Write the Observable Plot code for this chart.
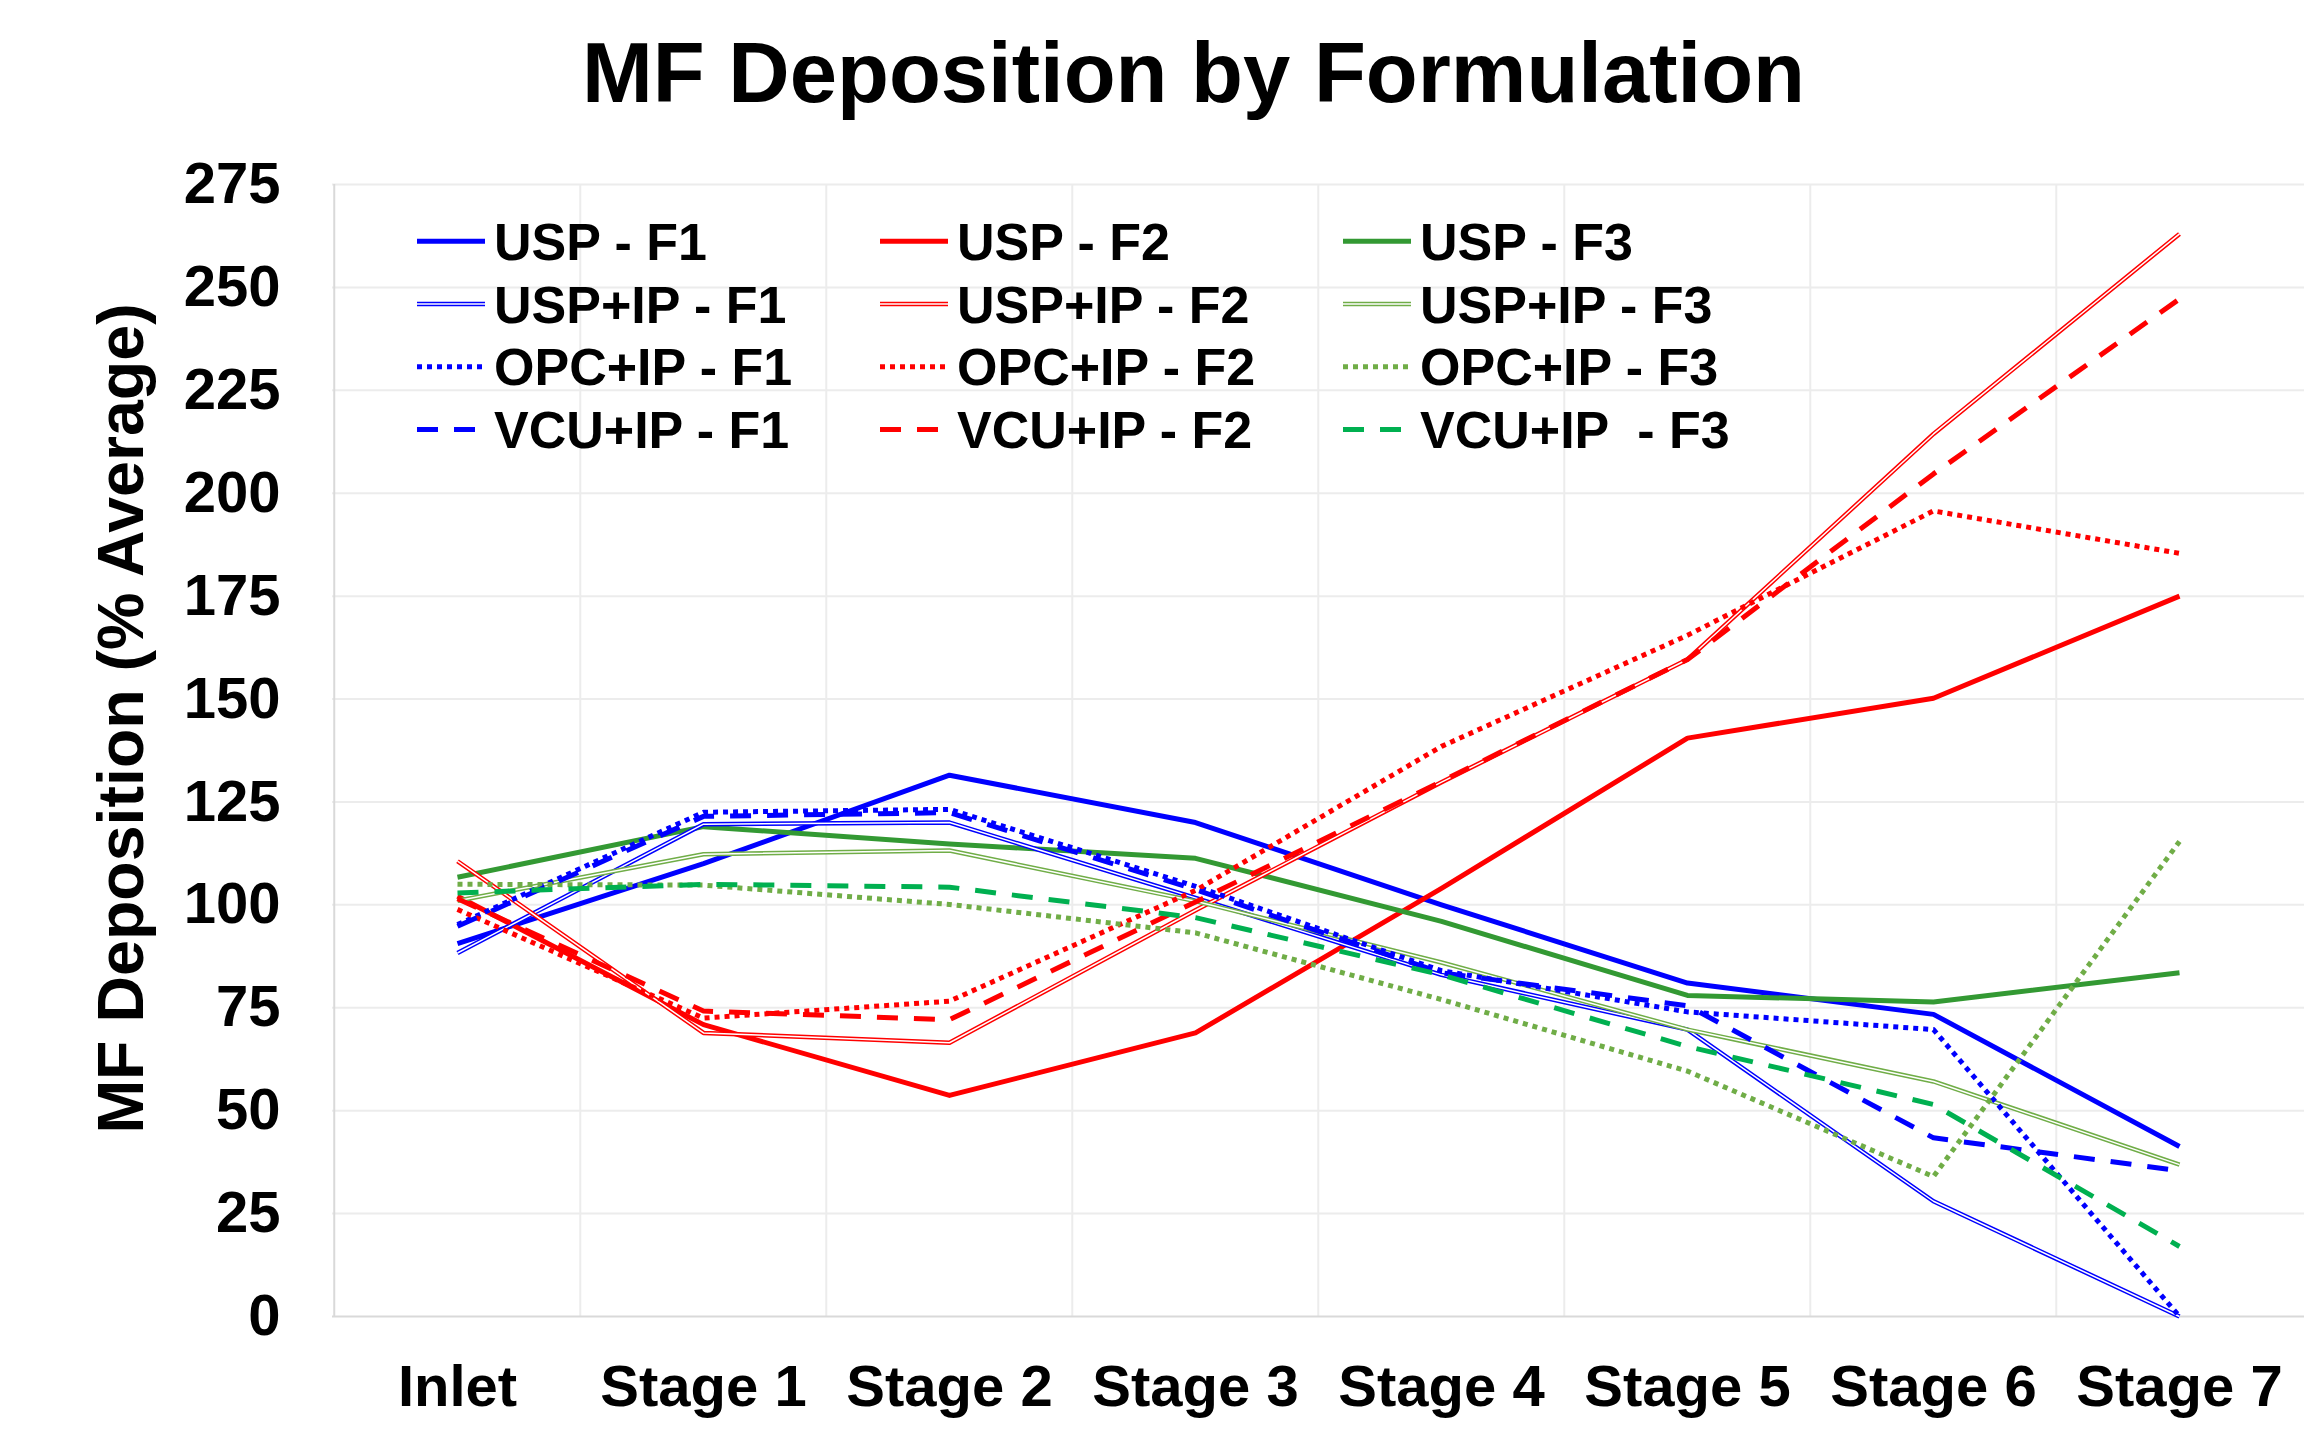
<!DOCTYPE html>
<html>
<head>
<meta charset="utf-8">
<script src="https://cdn.jsdelivr.net/npm/d3@7"></script>
<script src="https://cdn.jsdelivr.net/npm/@observablehq/plot@0.6"></script>
<style>
  html, body { margin: 0; padding: 0; background: #fff; }
  #wrap { position: relative; width: 2312px; height: 1454px; overflow: hidden; background: #fff;
          font-family: "Liberation Sans", Arial, sans-serif; }
  #title { position: absolute; left: 582px; top: 0; white-space: nowrap; font-size: 85px;
           font-weight: bold; line-height: 145px; height: 140px; color: #000; }
  #chart { position: absolute; left: 0; top: 140px; }
  #legend { position: absolute; left: 0; top: 0; pointer-events: none; }
</style>
</head>
<body>
<div id="wrap">
  <div id="title">MF Deposition by Formulation</div>
  <div id="chart"></div>
</div>
<script>
// ---------- data ----------
const stages = ["Inlet", "Stage 1", "Stage 2", "Stage 3", "Stage 4", "Stage 5", "Stage 6", "Stage 7"];
const yTicks = [0, 25, 50, 75, 100, 125, 150, 175, 200, 225, 250, 275];

// series in legend order (row by row)
const seriesNames = [
  "USP - F1", "USP - F2", "USP - F3",
  "USP+IP - F1", "USP+IP - F2", "USP+IP - F3",
  "OPC+IP - F1", "OPC+IP - F2", "OPC+IP - F3",
  "VCU+IP - F1", "VCU+IP - F2", "VCU+IP  - F3"
];
const seriesMethods = ["USP", "USP", "USP", "USP+IP", "USP+IP", "USP+IP",
                       "OPC+IP", "OPC+IP", "OPC+IP", "VCU+IP", "VCU+IP", "VCU+IP"];
const seriesFormulations = ["F1", "F2", "F3", "F1", "F2", "F3", "F1", "F2", "F3", "F1", "F2", "F3"];

const uspF1    = [90.6, 110.0, 131.5, 120.0, 100.0, 81.0, 73.4, 41.3];
const uspF2    = [102.1, 70.9, 53.7, 68.9, 104.0, 140.5, 150.2, 175.0];
const uspF3    = [106.7, 119.0, 114.8, 111.3, 96.0, 78.0, 76.4, 83.5];
const uspIpF1  = [88.3, 119.6, 120.0, 101.7, 83.0, 69.7, 28.0, 0.0];
const uspIpF2  = [110.6, 68.9, 66.5, 98.7, 129.8, 159.6, 214.4, 263.0];
const uspIpF3  = [101.0, 112.3, 113.2, 100.9, 86.0, 69.7, 57.1, 36.9];
const opcIpF1  = [95.2, 122.5, 123.2, 104.5, 84.0, 74.0, 69.7, 0.0];
const opcIpF2  = [98.9, 72.5, 76.6, 103.5, 138.5, 165.5, 195.7, 185.4];
const opcIpF3  = [105.0, 104.8, 100.1, 93.2, 77.0, 59.6, 34.0, 115.4];
const vcuIpF1  = [94.8, 121.5, 122.4, 103.7, 83.5, 75.5, 43.4, 35.4];
const vcuIpF2  = [101.5, 74.2, 72.1, 100.7, 130.0, 159.6, 204.7, 247.2];
const vcuIpF3  = [102.9, 105.0, 104.3, 96.9, 83.0, 65.6, 51.5, 17.0];

const seriesValues = [uspF1, uspF2, uspF3, uspIpF1, uspIpF2, uspIpF3,
                      opcIpF1, opcIpF2, opcIpF3, vcuIpF1, vcuIpF2, vcuIpF3];

// ---------- styling ----------
const colorFor = (method, form) => {
  if (form === "F1") return "#0000FF";
  if (form === "F2") return "#FF0000";
  if (method === "USP") return "#339933";
  if (method === "VCU+IP") return "#00B050";
  return "#70AD47";
};
const styleFor = {
  "USP":    {kind: "solid",  width: 5,   dash: null},
  "USP+IP": {kind: "double", width: 4.5, dash: null},
  "OPC+IP": {kind: "dotted", width: 5,   dash: "5,5"},
  "VCU+IP": {kind: "dashed", width: 5,   dash: "21,16"}
};

// long table
const rows = [];
seriesNames.forEach((name, i) => {
  seriesValues[i].forEach((v, j) => rows.push({series: name, stage: stages[j], value: v}));
});

// ---------- layout ----------
const W = 2312, H = 1314;
const mL = 332, mR = 8, mT = 44, mB = 138;
const step = (W - mL - mR) / stages.length;

const lineMarks = [];
seriesNames.forEach((name, i) => {
  const st = styleFor[seriesMethods[i]];
  const color = colorFor(seriesMethods[i], seriesFormulations[i]);
  const data = rows.filter(r => r.series === name);
  const base = {x: "stage", y: "value", stroke: color, strokeWidth: st.width,
                strokeLinecap: "butt", strokeLinejoin: "round"};
  if (st.dash) base.strokeDasharray = st.dash;
  lineMarks.push(Plot.line(data, base));
  if (st.kind === "double") {
    lineMarks.push(Plot.line(data, {x: "stage", y: "value", stroke: "#ffffff", strokeWidth: 1.5,
                                    strokeLinecap: "butt", strokeLinejoin: "round"}));
  }
});

const chart = Plot.plot({
  width: W,
  height: H,
  marginLeft: mL,
  marginRight: mR,
  marginTop: mT,
  marginBottom: mB,
  style: {fontFamily: "'Liberation Sans', Arial, sans-serif", fontWeight: "bold",
          color: "#000", background: "#fff", overflow: "visible"},
  x: {type: "point", domain: stages, padding: 0.5},
  y: {domain: [0, 275]},
  marks: [
    Plot.ruleY(yTicks.filter(t => t > 0), {y: d => d, stroke: "#ececec", strokeWidth: 2}),
    Plot.ruleX(stages.slice(1), {x: d => d, dx: -step / 2, stroke: "#ececec", strokeWidth: 2}),
    Plot.ruleX(stages.slice(0, 1), {x: d => d, dx: -step / 2, stroke: "#d9d9d9", strokeWidth: 2}),
    Plot.ruleY([0], {y: d => d, stroke: "#d9d9d9", strokeWidth: 2}),
    ...lineMarks,
    Plot.axisY(yTicks, {tickSize: 0, tickPadding: 52, fontSize: 58, fontWeight: "bold", label: null}),
    Plot.axisX({tickSize: 0, tickPadding: 48, fontSize: 58, fontWeight: "bold", label: null}),
    Plot.text(["MF Deposition (% Average)"], {
      text: d => d, frameAnchor: "left", rotate: -90, dx: -210, dy: -32,
      fontSize: 64.5, fontWeight: "bold", textAnchor: "middle", lineAnchor: "middle", fill: "#000"
    })
  ]
});
chart.style.display = "block";
document.getElementById("chart").appendChild(chart);

// ---------- legend (inside plot area, 3 columns x 4 rows) ----------
const legLeft = 417, legColStep = 463, legRowTop = 241.3, legRowStep = 62.7;
const swatchLen = 68, textOffset = 77, legFont = 52;
const legend = d3.select("#wrap").append("svg")
  .attr("id", "legend").attr("width", 2312).attr("height", 1454);
seriesNames.forEach((name, i) => {
  const col = i % 3, row = Math.floor(i / 3);
  const x0 = legLeft + col * legColStep;
  const cy = legRowTop + row * legRowStep;
  const st = styleFor[seriesMethods[i]];
  const color = colorFor(seriesMethods[i], seriesFormulations[i]);
  const ln = legend.append("line")
    .attr("x1", x0).attr("x2", x0 + swatchLen).attr("y1", cy).attr("y2", cy)
    .attr("stroke", color).attr("stroke-width", st.width).attr("stroke-linecap", "butt");
  if (st.dash) ln.attr("stroke-dasharray", st.dash);
  if (st.kind === "double") {
    legend.append("line")
      .attr("x1", x0).attr("x2", x0 + swatchLen).attr("y1", cy).attr("y2", cy)
      .attr("stroke", "#fff").attr("stroke-width", 1.5);
  }
  legend.append("text")
    .attr("x", x0 + textOffset).attr("y", cy + 0.358 * legFont)
    .attr("font-family", "'Liberation Sans', Arial, sans-serif")
    .attr("font-weight", "bold").attr("font-size", legFont)
    .attr("fill", "#000").style("white-space", "pre")
    .text(name);
});
</script>
</body>
</html>
